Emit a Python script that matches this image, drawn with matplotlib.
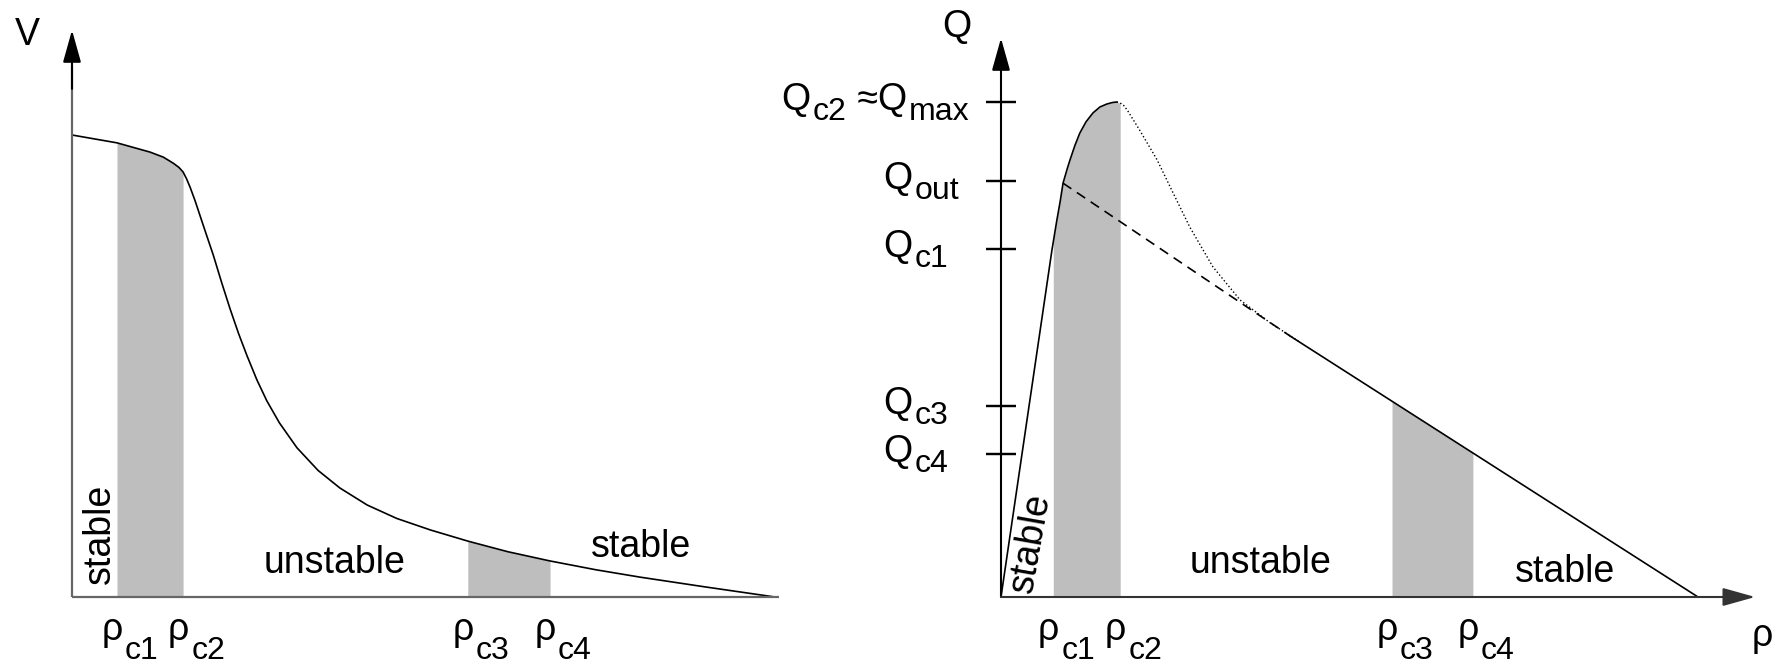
import numpy as np
import matplotlib
matplotlib.use('Agg')
import matplotlib.pyplot as plt

plt.rcParams['font.family'] = ['Liberation Sans', 'DejaVu Sans']
plt.rcParams['font.size'] = 27

# left panel: speed V versus density rho (rho_max = 1, V_free = 1)
rho_v = [0, 0.064, 0.111, 0.130, 0.144, 0.152, 0.158, 0.163, 0.168, 0.175, 0.182,
         0.191, 0.201, 0.213, 0.225, 0.237, 0.249, 0.263, 0.277, 0.295, 0.320, 0.350,
         0.381, 0.420, 0.462, 0.510, 0.563, 0.620, 0.680, 0.745, 0.808, 0.900, 1.0]
v = [1.0, 0.983, 0.963, 0.952, 0.939, 0.930, 0.920, 0.905, 0.887, 0.858, 0.826,
     0.785, 0.740, 0.680, 0.623, 0.570, 0.522, 0.470, 0.425, 0.377, 0.323, 0.274,
     0.236, 0.199, 0.170, 0.145, 0.121, 0.098, 0.078, 0.059, 0.043, 0.022, 0.0]
rho_c_left = [0.064, 0.158, 0.563, 0.680]

# right panel: flow Q versus density rho (Q_max = 1)
rho_free = [0, 0.073, 0.080, 0.085, 0.089, 0.095, 0.099, 0.106, 0.113, 0.122,
            0.132, 0.142, 0.152, 0.160, 0.166]
q_free = [0, 0.70, 0.76, 0.80, 0.836, 0.865, 0.883, 0.912, 0.937, 0.960,
          0.978, 0.990, 0.996, 0.999, 1.0]
rho_meta = [0.166, 0.172, 0.176, 0.181, 0.199, 0.224, 0.247, 0.271, 0.304, 0.343, 0.386, 0.43]
q_meta = [1.0, 0.997, 0.993, 0.984, 0.943, 0.883, 0.816, 0.747, 0.667, 0.600, 0.554, 0.514]
rho_out_line = [0.089, 0.415]
q_out_line = [0.836, 0.527]
rho_cong = [0.415, 1.0]
q_cong = [0.527, 0.0]
rho_c_right = [0.075, 0.171, 0.561, 0.677]
q_ticks = [1.0, 0.841, 0.703, 0.386, 0.289]
q_labels = [[('Q', 0), ('c2', 1), (' ≈Q', 0), ('max', 1)],
            [('Q', 0), ('out', 1)],
            [('Q', 0), ('c1', 1)],
            [('Q', 0), ('c3', 1)],
            [('Q', 0), ('c4', 1)]]
rho_labels = [[('ρ', 0), ('c%d' % i, 1)] for i in (1, 2, 3, 4)]

band_color = '#bebebe'
SUB = 23
W, H = 1777, 665
fig = plt.figure(figsize=(W / 100, H / 100), dpi=100)
ax1 = fig.add_axes([72 / W, 68 / H, 703 / W, 462 / H])
ax2 = fig.add_axes([1001 / W, 68 / H, 697 / W, 495 / H])
for ax in (ax1, ax2):
    ax.set_xlim(0, 1)
    ax.set_ylim(0, 1)
    ax.axis('off')


def arrow(ax, tail, tip, color):
    ax.annotate('', xy=tip, xytext=tail, annotation_clip=False,
                arrowprops=dict(arrowstyle='-|>,head_length=1.0,head_width=0.28',
                                mutation_scale=20, lw=1.5, color=color,
                                shrinkA=0, shrinkB=0))


def band(ax, xs, ys, lo, hi):
    xs, ys = np.asarray(xs), np.asarray(ys)
    inner = (xs > lo) & (xs < hi)
    bx = np.concatenate([[lo], xs[inner], [hi]])
    by = np.concatenate([[np.interp(lo, xs, ys)], ys[inner], [np.interp(hi, xs, ys)]])
    ax.fill_between(bx, 0, by, color=band_color, lw=0)


def label(ax, xy, offset, parts, drop):
    # text with near full-size subscripts, chained left to right
    base = ax.annotate(parts[0][0], xy=xy, xytext=offset, textcoords='offset points',
                       ha='left', va='baseline', annotation_clip=False)
    prev = base
    for txt, is_sub in parts[1:]:
        if is_sub:
            prev = ax.annotate(txt, xy=(1, 0), xycoords=(prev, base), xytext=(1.5, 0.8 - drop),
                               textcoords='offset points', ha='left', va='bottom', fontsize=SUB)
        else:
            prev = ax.annotate(txt, xy=(1, 0), xycoords=(prev, base), xytext=(0, 0),
                               textcoords='offset points', ha='left', va='bottom')


# ---- left panel
for lo, hi in [rho_c_left[:2], rho_c_left[2:]]:
    band(ax1, rho_v, v, lo, hi)
ax1.plot(rho_v, v, color='k', lw=1.2, clip_on=False)
ax1.plot([0, 1.005], [0, 0], color='0.4', lw=1.6, clip_on=False, solid_capstyle='butt')
ax1.plot([0, 0], [0, 1.15], color='0.4', lw=1.6, clip_on=False, solid_capstyle='butt')
arrow(ax1, (0, 1.10), (0, 1.227), 'k')
ax1.text(-0.064, 1.216, 'V', ha='center', va='center')
ax1.text(0.040, 0.136, 'stable', rotation=90, ha='center', va='center')
ax1.text(0.373, 0.052, 'unstable', ha='center', va='baseline')
ax1.text(0.809, 0.087, 'stable', ha='center', va='baseline')
for r, parts in zip(rho_c_left, rho_labels):
    label(ax1, (r, 0), (-11, -31), parts, 14)

# ---- right panel
q_all_rho = rho_free + rho_meta[1:]
q_all = q_free + q_meta[1:]
band(ax2, q_all_rho, q_all, rho_c_right[0], rho_c_right[1])
band(ax2, rho_out_line + rho_cong[1:], q_out_line + q_cong[1:], rho_c_right[2], rho_c_right[3])
ax2.plot(rho_free, q_free, color='k', lw=1.2, clip_on=False)
ax2.plot(rho_meta, q_meta, color='k', lw=1.0, ls=':', clip_on=False)
ax2.plot(rho_out_line, q_out_line, color='k', lw=1.2, dashes=(6, 4))
ax2.plot(rho_cong, q_cong, color='k', lw=1.2, clip_on=False)
arrow(ax2, (0, 0), (0, 1.129), 'k')
arrow(ax2, (0, 0), (1.082, 0), '0.2')
for q in q_ticks:
    ax2.plot([0, 0], [q, q], marker='_', ms=21, mew=1.6, color='k', clip_on=False)
ax2.text(-0.063, 1.152, 'Q', ha='center', va='center')
ax2.text(1.092, -0.079, 'ρ', ha='center', va='center')
ax2.text(0.043, 0.109, 'stable', rotation=80, ha='center', va='center')
ax2.text(0.372, 0.048, 'unstable', ha='center', va='baseline')
ax2.text(0.809, 0.030, 'stable', ha='center', va='baseline')
for q, parts in zip(q_ticks, q_labels):
    dx = -158 if len(parts) > 2 else -85
    label(ax2, (0, q), (dx, -6), parts, 7)
for r, parts in zip(rho_c_right, rho_labels):
    label(ax2, (r, 0), (-11, -31), parts, 14)

fig.savefig('out.png', dpi=100)
